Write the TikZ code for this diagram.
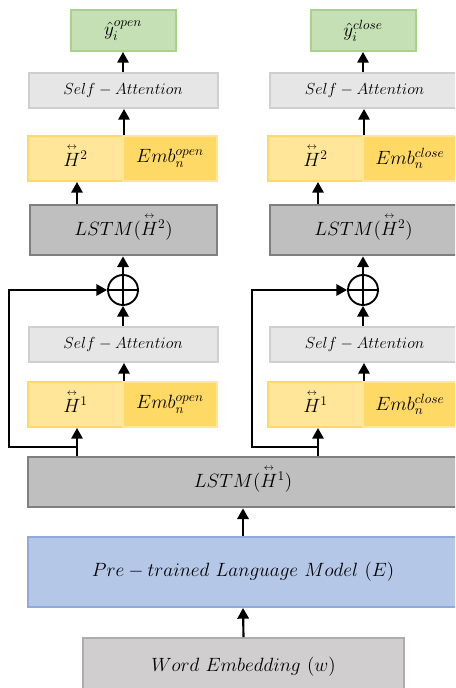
\documentclass[tikz,border=0pt]{standalone}
\usepackage{amsmath}
\usepackage{tikz}
\usetikzlibrary{arrows.meta,positioning,calc}
\usepackage{xcolor}
\definecolor{outfill}{RGB}{197,224,180}
\definecolor{outedge}{RGB}{169,209,142}
\definecolor{attfill}{RGB}{231,230,230}
\definecolor{attedge}{RGB}{208,206,206}
\definecolor{hidlight}{RGB}{255,230,153}
\definecolor{hiddark}{RGB}{255,217,102}
\definecolor{lstmfill}{RGB}{191,191,191}
\definecolor{lstmedge}{RGB}{127,127,127}
\definecolor{plmfill}{RGB}{180,199,231}
\definecolor{plmedge}{RGB}{143,170,220}
\definecolor{wefill}{RGB}{208,206,206}
\definecolor{weedge}{RGB}{174,171,171}
\tikzset{
  % ---- boxes ------------------------------------------------------------
  box/.style={
    rectangle, line width=1.5pt, inner sep=0pt, align=center,
    font=\fontsize{14.4}{17}\selectfont},
  outbox/.style={box, draw=outedge, fill=outfill,
    minimum width=78.75pt, minimum height=30.75pt},
  attbox/.style={box, draw=attedge, fill=attfill,
    minimum width=141.75pt, minimum height=26.25pt,
    font=\fontsize{12}{15}\selectfont},
  hidbox/.style={box, draw=hiddark, fill=hidlight,
    minimum width=71.25pt, minimum height=33.75pt},
  embbox/.style={box, draw=hidlight, fill=hiddark,
    minimum width=70.5pt, minimum height=33.75pt},
  lstmbox/.style={box, draw=lstmedge, fill=lstmfill, line width=2pt,
    minimum width=140.25pt, minimum height=37.5pt},
  plmbox/.style={box, draw=plmedge, fill=plmfill,
    minimum width=322.5pt, minimum height=52.5pt},
  webox/.style={box, draw=weedge, fill=wefill,
    minimum width=240.75pt, minimum height=43.5pt},
  sumnode/.style={circle, draw=black, line width=1.4pt,
    minimum size=22.5pt, inner sep=0pt},
  % ---- arrows -----------------------------------------------------------
  ar/.style={-{Triangle[length=8pt,width=8.5pt]}, draw=black, line width=1.6pt},
}
\newcommand{\Hbi}[1]{{\smash[t]{\overset{\scriptscriptstyle\leftrightarrow}{H}}}^{#1}\vphantom{H}}

\begin{document}
\begin{tikzpicture}[x=0.75pt,y=-0.75pt]
\useasboundingbox (0,0) rectangle (455,688);
\clip (0,0) rectangle (455,688);

% ============================ shared bottom ================================
\node[webox]   (we)    at (243.5,667) {$Word\ Embedding\ (w)$};
\node[plmbox]  (plm)   at (243,572)   {$Pre-trained\ Language\ Model\ (E)$};
\node[lstmbox, minimum width=322.5pt] (lstm1) at (243,482) {$LSTM(\Hbi{1})$};

\draw[ar] (we.north) -- (plm.south);
\draw[ar] (plm.north) -- (lstm1.south);

% ============================ LEFT: open ===================================
\node[hidbox]  (h1o)    at (75.5,404.5) {$\Hbi{1}$};
\node[embbox]  (emb1o)  at (170,404.5)  {$Emb_n^{open}$};
\node[attbox]  (sa1o)   at (123,344.5)  {$Self-Attention$};
\node[sumnode] (pluso)  at (123,290) {};
\node[lstmbox] (lstm2o) at (123.5,230) {$LSTM(\Hbi{2})$};
\node[hidbox]  (h2o)    at (75.5,158.5) {$\Hbi{2}$};
\node[embbox]  (emb2o)  at (170,158.5)  {$Emb_n^{open}$};
\node[attbox]  (sa2o)   at (123,90.5)   {$Self-Attention$};
\node[outbox]  (yo)     at (123,30.5)   {$\hat{y}_i^{open}$};

\draw[line width=1.4pt] (pluso.north) -- (pluso.south) (pluso.west) -- (pluso.east);
\coordinate (sko) at (77,447);
\coordinate (skol) at (9,447);

\draw[ar] (lstm1.north -| sko) -- (h1o.south -| sko);
\draw[ar] (sko) -- (skol) |- (pluso.west);
\draw[ar] (h1o.north east) -- (sa1o.south -| h1o.north east);
\draw[ar] (sa1o.north -| pluso) -- (pluso.south);
\draw[ar] (pluso.north) -- (lstm2o.south -| pluso);
\draw[ar] (lstm2o.north -| sko) -- (h2o.south -| sko);
\draw[ar] (h2o.north east) -- (sa2o.south -| h2o.north east);
\draw[ar] (sa2o.north) -- (yo.south);

% ============================ RIGHT: close =================================
\node[hidbox]  (h1c)    at (315.5,404.5) {$\Hbi{1}$};
\node[embbox]  (emb1c)  at (410,404.5)   {$Emb_n^{close}$};
\node[attbox]  (sa1c)   at (364.5,344.5) {$Self-Attention$};
\node[sumnode] (plusc)  at (363,290) {};
\node[lstmbox] (lstm2c) at (363.5,230) {$LSTM(\Hbi{2})$};
\node[hidbox]  (h2c)    at (315.5,158.5) {$\Hbi{2}$};
\node[embbox]  (emb2c)  at (410,158.5)   {$Emb_n^{close}$};
\node[attbox]  (sa2c)   at (364.5,90.5)  {$Self-Attention$};
\node[outbox]  (yc)     at (363,30.5)    {$\hat{y}_i^{close}$};

\draw[line width=1.4pt] (plusc.north) -- (plusc.south) (plusc.west) -- (plusc.east);
\coordinate (skc) at (318,447);
\coordinate (skcl) at (252,447);

\draw[ar] (lstm1.north -| skc) -- (h1c.south -| skc);
\draw[ar] (skc) -- (skcl) |- (plusc.west);
\draw[ar] (h1c.north east) -- (sa1c.south -| h1c.north east);
\draw[ar] (sa1c.north -| plusc) -- (plusc.south);
\draw[ar] (plusc.north) -- (lstm2c.south -| plusc);
\draw[ar] (lstm2c.north -| skc) -- (h2c.south -| skc);
\draw[ar] (h2c.north east) -- (sa2c.south -| h2c.north east);
\draw[ar] (sa2c.north -| yc) -- (yc.south);

\end{tikzpicture}
\end{document}
